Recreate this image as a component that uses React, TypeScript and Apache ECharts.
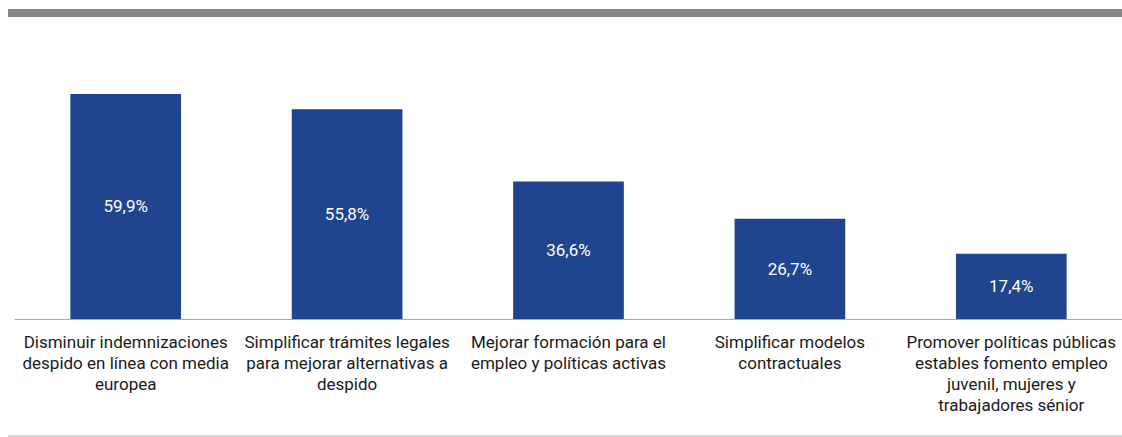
import React, { useEffect, useRef } from "react";
import * as echarts from "echarts";

const categories = [
  "Disminuir indemnizaciones\ndespido en línea con media\neuropea",
  "Simplificar trámites legales\npara mejorar alternativas a\ndespido",
  "Mejorar formación para el\nempleo y políticas activas",
  "Simplificar modelos\ncontractuales",
  "Promover políticas públicas\nestables fomento empleo\njuvenil, mujeres y\ntrabajadores sénior",
];
const values = [59.9, 55.8, 36.6, 26.7, 17.4];

export default function App() {
  const ref = useRef<HTMLDivElement>(null);
  useEffect(() => {
    if (!ref.current) return;
    const chart = echarts.init(ref.current, undefined, { renderer: "svg" });
    chart.setOption({
      animation: false,
      textStyle: { fontFamily: "Roboto" },
      grid: { left: 15, right: -3, top: 56, bottom: 118, containLabel: false },
      xAxis: {
        type: "category",
        data: categories,
        axisLine: { lineStyle: { color: "#a8a8a8", width: 1 } },
        axisTick: { show: false },
        axisLabel: {
          interval: 0,
          color: "#1a1a1a",
          fontSize: 17,
          lineHeight: 21,
          margin: 12,
          fontFamily: "Roboto",
        },
      },
      yAxis: {
        type: "value",
        min: 0,
        max: 70,
        show: false,
        splitLine: { show: false },
      },
      series: [
        {
          type: "bar",
          data: values,
          barWidth: "50%",
          itemStyle: { color: "#20448e" },
          label: {
            show: true,
            position: "inside",
            color: "#ffffff",
            fontSize: 17,
            fontFamily: "Roboto",
            formatter: (p: any) => p.value.toFixed(1).replace(".", ",") + "%",
          },
        },
      ],
      graphic: [
        {
          type: "rect",
          shape: { x: 8, y: 9, width: 1114, height: 8 },
          style: { fill: "#87878a" },
        },
        {
          type: "line",
          shape: { x1: 8, y1: 436, x2: 1122, y2: 436 },
          style: { stroke: "#a8a8a8", lineWidth: 1 },
        },
      ],
    });
    return () => chart.dispose();
  }, []);
  return (
    <div
      ref={ref}
      style={{ position: "absolute", left: 0, top: 0, width: 1122, height: 437 }}
    />
  );
}
